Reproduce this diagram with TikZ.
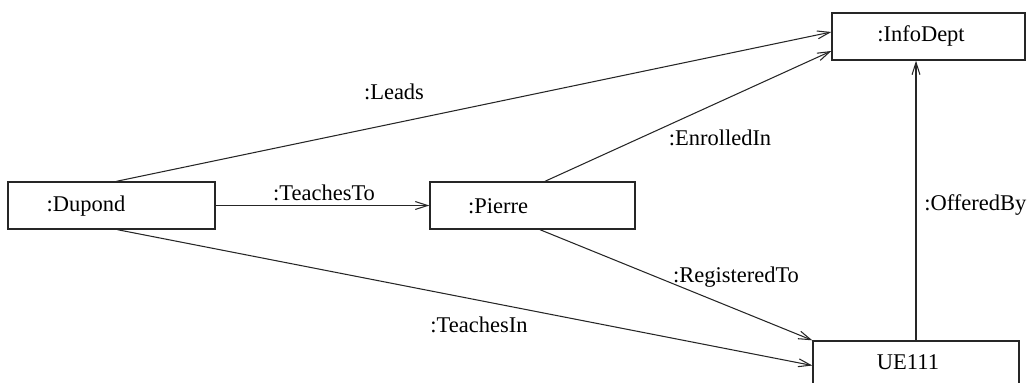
\documentclass[tikz,border=0pt]{standalone}
\usepackage{fontspec}
\setmainfont{Liberation Serif}
\usetikzlibrary{arrows.meta}
\begin{document}
\begin{tikzpicture}[x=0.02cm,y=-0.02cm,
  objbox/.style={draw=black!85,line width=0.8pt,rectangle,inner sep=0pt,
    minimum height=0.94cm},
  objtext/.style={font=\fontsize{12.8}{15}\selectfont,inner sep=0pt},
  link/.style={draw=black!85,line width=0.6pt,
    -{Straight Barb[length=7pt,width=4.5pt,line width=0.6pt]}},
  linklabel/.style={font=\fontsize{12.8}{15}\selectfont,inner sep=0pt}]
\useasboundingbox (0,0) rectangle (1027,382);

% object boxes
\node[objbox,minimum width=4.14cm] (dupond) at (111.5,205.5) {};
\node[objbox,minimum width=4.1cm]  (pierre) at (532.5,205.5) {};
\node[objbox,minimum width=3.86cm] (info)   at (928.5,36.5) {};
\node[objbox,minimum width=4.12cm] (ue)     at (916,364.5) {};

% object names
\node[objtext] (tdupond) at (86,206)  {:Dupond};
\node[objtext] (tpierre) at (498,206) {:Pierre};
\node[objtext] (tinfo)   at (921,36)  {:InfoDept};
\node[objtext] (tue)     at (908,362) {UE111};

% links between the objects
\draw[link] ([xshift=0.1cm]dupond.north) -- ([yshift=0.09cm]info.west);
\draw[link] ([xshift=0.25cm]pierre.north) -- ([yshift=-0.29cm]info.west);
\draw[link] (dupond.east) -- (pierre.west);
\draw[link] ([xshift=0.15cm]pierre.south) -- (ue.north west);
\draw[link] ([xshift=0.12cm]dupond.south) -- ([yshift=-0.02cm]ue.west);
\draw[link] (ue.north) -- (info.south -| ue.north);

% link names
\node[linklabel] (lleads)    at (394,92)  {:Leads};
\node[linklabel] (lenrolled) at (720,138) {:EnrolledIn};
\node[linklabel] (lteaches)  at (324,193) {:TeachesTo};
\node[linklabel] (lreg)      at (736,277) {:RegisteredTo};
\node[linklabel] (lteachin)  at (479,325) {:TeachesIn};
\node[linklabel,anchor=west] (loffered) at (924,205) {:OfferedBy};
\end{tikzpicture}
\end{document}
